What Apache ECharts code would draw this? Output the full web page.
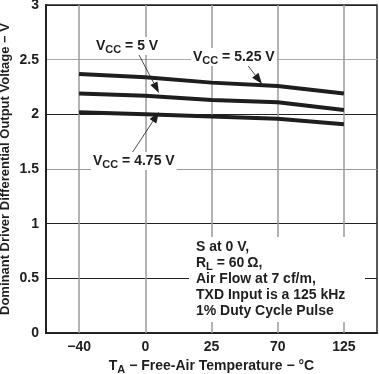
<!DOCTYPE html>
<html><head><meta charset="utf-8">
<script src="https://cdn.jsdelivr.net/npm/echarts@6/dist/echarts.min.js"></script>
<style>html,body{margin:0;padding:0;background:#fff}#c{width:379px;height:374px}</style>
</head><body><div id="c"></div>
<script>
const categories = ['\u221240', '0', '25', '70', '125'];
const vcc525 = [2.37, 2.34, 2.29, 2.26, 2.19];
const vcc5 = [2.19, 2.17, 2.13, 2.11, 2.04];
const vcc475 = [2.02, 2.00, 1.98, 1.96, 1.91];
const yTickLabels = ['0', '0.5', '1', '1.5', '2', '2.5', '3'];
const noteLines = ['S at 0 V,', 'R{sub|L} = 60\u2009\u03a9,', 'Air Flow at 7 cf/m,', 'TXD Input is a 125 kHz', '1% Duty Cycle Pulse'];

const FONT = 'Liberation Sans, Arial, Helvetica, sans-serif';
const INK = '#1e1e1e';
const chart = echarts.init(document.getElementById('c'), null, {renderer: 'canvas'});

const subStyle = {fontSize: 11, fontWeight: 'bold', fontFamily: FONT, color: INK, padding: [7, 0, 0, 0]};

function arrow(x1, y1, x2, y2) {
  const dx = x2 - x1, dy = y2 - y1, L = Math.hypot(dx, dy);
  const ux = dx / L, uy = dy / L, hl = 11, hw = 4;
  const bx = x2 - ux * hl, by = y2 - uy * hl;
  return [
    {type: 'line', z: 50, shape: {x1: x1, y1: y1, x2: bx, y2: by}, style: {stroke: INK, lineWidth: 0.8}},
    {type: 'polygon', z: 50, shape: {points: [[x2, y2], [bx - uy * hw, by + ux * hw], [bx + uy * hw, by - ux * hw]]}, style: {fill: INK}}
  ];
}
function label(x, y, txt) {
  return {type: 'text', z: 60, x: x, y: y, style: {
    text: txt, fontSize: 14, fontWeight: 'bold', fontFamily: FONT, fill: INK,
    backgroundColor: '#fff', padding: [0, 2, 0, 2], verticalAlign: 'middle', align: 'left',
    rich: {sub: subStyle}
  }};
}

const mkSeries = (name, data) => ({
  name: name, type: 'line', data: data, showSymbol: false, symbol: 'none',
  lineStyle: {color: INK, width: 4}, z: 5, animation: false
});

chart.setOption({
  animation: false,
  backgroundColor: '#fff',
  grid: {left: 46, right: 2, top: 5, bottom: 41, show: true, borderColor: '#222', borderWidth: 1.5,
    outerBoundsMode: 'none', containLabel: false},
  xAxis: {
    type: 'category', data: categories, boundaryGap: true,
    axisLine: {lineStyle: {color: '#222', width: 2}}, axisTick: {show: false},
    axisLabel: {fontSize: 14, fontWeight: 'bold', fontFamily: FONT, color: INK, margin: 7},
    splitLine: {show: false},
    name: 'T{sub|A} \u2212 Free-Air Temperature \u2212 \u00b0C', nameLocation: 'middle', nameGap: 24,
    nameTextStyle: {fontSize: 14, fontWeight: 'bold', fontFamily: FONT, color: INK, rich: {sub: subStyle}}
  },
  yAxis: {
    type: 'value', min: 0, max: 3, interval: 0.5,
    axisLine: {show: true, lineStyle: {color: '#222', width: 2}}, axisTick: {show: false},
    axisLabel: {fontSize: 14, fontWeight: 'bold', fontFamily: FONT, color: INK, margin: 7,
      formatter: (v) => yTickLabels[Math.round(v * 2)]},
    splitLine: {show: true, lineStyle: {color: ['#222', '#222', '#222', '#999', '#222', '#aaa', '#222'], width: 1}},
    name: 'Dominant Driver Differential Output Voltage \u2212 V', nameLocation: 'middle', nameGap: 34,
    nameMoveOverlap: false,
    nameTextStyle: {fontSize: 13, fontWeight: 'bold', fontFamily: FONT, color: INK}
  },
  series: [
    {type: 'line', data: [], z: 1, silent: true,
      markLine: {silent: true, symbol: 'none', label: {show: false}, animation: false,
        lineStyle: {color: '#9a9a9a', width: 1.5, type: 'solid'},
        data: categories.map(c => ({xAxis: c}))}},
    mkSeries('VCC = 5.25 V', vcc525),
    mkSeries('VCC = 5 V', vcc5),
    mkSeries('VCC = 4.75 V', vcc475)
  ],
  graphic: [
    label(94, 46, 'V{sub|CC} = 5 V'),
    label(191, 57, 'V{sub|CC} = 5.25 V'),
    label(91, 161, 'V{sub|CC} = 4.75 V'),
    ...arrow(138, 53, 159, 93),
    ...arrow(246, 63, 262, 84),
    ...arrow(132, 153, 159, 112),
    {type: 'rect', z: 40, shape: {x: 189, y: 237, width: 176, height: 85}, style: {fill: '#fff'}},
    {type: 'text', z: 60, x: 196, y: 239, style: {
      text: noteLines.join('\n'), fontSize: 14, fontWeight: 'bold', fontFamily: FONT, fill: INK,
      lineHeight: 16, align: 'left', verticalAlign: 'top', rich: {sub: Object.assign({lineHeight: 16}, subStyle)}
    }}
  ]
});
</script></body></html>
